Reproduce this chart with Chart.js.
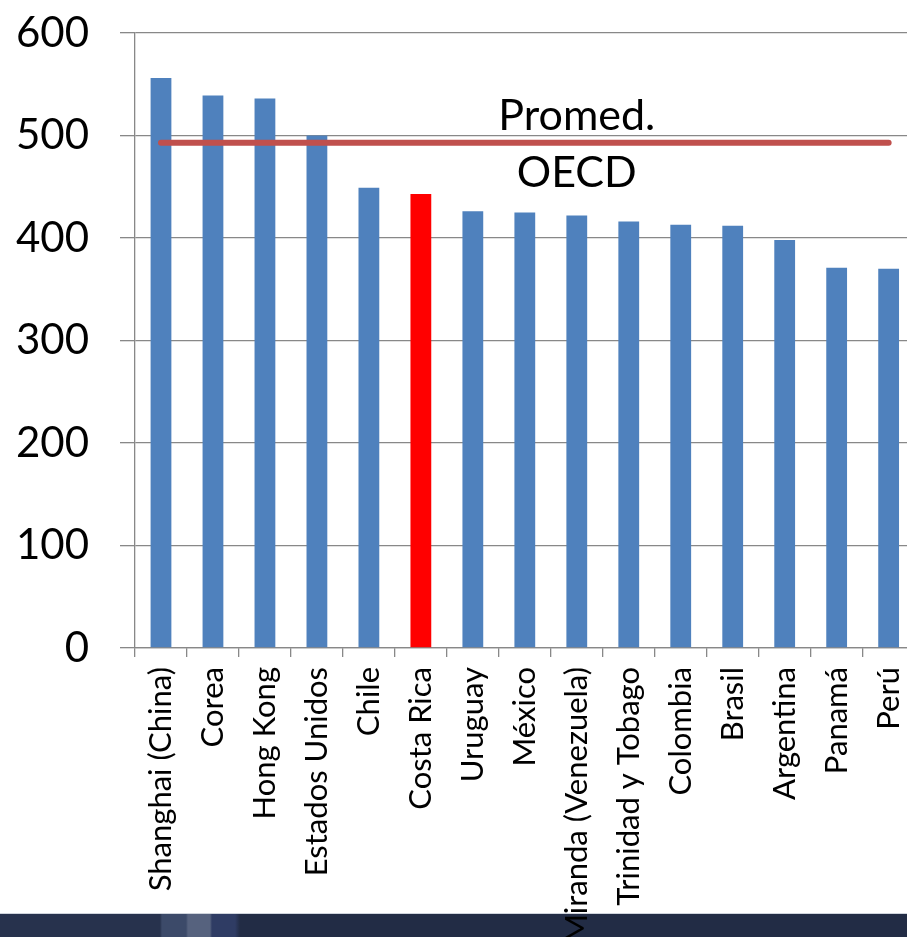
<!DOCTYPE html>
<html lang="es">
<head>
  <meta charset="UTF-8" />
  <title>PISA 2009 - Lectura</title>
  <script src="https://cdn.jsdelivr.net/npm/chart.js"></script>
  <style>
    html, body { margin: 0; padding: 0; background: #fff; }
    .slide { position: relative; width: 907px; height: 937px; overflow: hidden; background: #fff; }
    .band {
      position: absolute; left: 0; top: 913px; width: 907px; height: 24px;
      border-top: 1px solid #cfd4dc;
      background: linear-gradient(90deg, #27324d 0, #27324d 160px, #3c4a69 162px, #3c4a69 186px,
        #56627e 188px, #56627e 210px, #2f3c64 212px, #2f3c64 235px, #222c45 240px, #222c45 907px);
    }
    #pisaChart { position: absolute; left: 0; top: 0; z-index: 1; }
  </style>
</head>
<body>
  <div class="slide">
    <div class="band"></div>
    <canvas id="pisaChart" width="936" height="937"></canvas>
  </div>

  <script>
    const countries = ['Shanghai (China)', 'Corea', 'Hong Kong', 'Estados Unidos', 'Chile', 'Costa Rica',
      'Uruguay', 'México', 'Miranda (Venezuela)', 'Trinidad y Tobago', 'Colombia', 'Brasil',
      'Argentina', 'Panamá', 'Perú'];
    const scores = [556, 539, 536, 500, 449, 443, 426, 425, 422, 416, 413, 412, 398, 371, 370];
    const oecdAverage = 493;
    const highlight = 'Costa Rica';
    const yTicks = [0, 100, 200, 300, 400, 500, 600];

    const FONT = 'Lato, "Open Sans", sans-serif';
    const gridGray = '#888888';

    // "Promed. / OECD" caption above and below the average line
    const avgLabel = {
      id: 'avgLabel',
      afterDatasetsDraw(chart) {
        const { ctx, scales } = chart;
        const x = scales.x.getPixelForValue(8);
        const y = scales.y.getPixelForValue(oecdAverage);
        ctx.save();
        ctx.fillStyle = '#000';
        ctx.font = '43px ' + FONT;
        ctx.textAlign = 'center';
        ctx.textBaseline = 'alphabetic';
        ctx.fillText('Promed.', x, y - 13);
        ctx.fillText('OECD', x, y + 44);
        ctx.restore();
      }
    };

    new Chart(document.getElementById('pisaChart'), {
      type: 'bar',
      data: {
        labels: countries,
        datasets: [
          {
            type: 'line',
            data: countries.map(() => oecdAverage),
            borderColor: '#c0504d',
            borderWidth: 6,
            borderCapStyle: 'round',
            pointRadius: 0,
            fill: false,
            order: 0
          },
          {
            data: scores,
            backgroundColor: countries.map(c => c === highlight ? '#ff0000' : '#4f81bd'),
            categoryPercentage: 1,
            barPercentage: 0.4,
            order: 1
          }
        ]
      },
      options: {
        responsive: false,
        animation: false,
        layout: { padding: { top: 33, right: 5, left: 0, bottom: 0 } },
        plugins: {
          legend: { display: false },
          tooltip: { enabled: false }
        },
        scales: {
          x: {
            grid: { drawOnChartArea: false, drawTicks: true, tickLength: 9, color: gridGray, lineWidth: 1.3 },
            border: { color: gridGray, width: 1.3 },
            ticks: {
              autoSkip: false,
              maxRotation: 90,
              minRotation: 90,
              padding: 10,
              color: '#000',
              font: { family: FONT, size: 31 }
            },
            afterFit(scale) { scale.height = 289; }
          },
          y: {
            min: 0,
            max: 600,
            afterBuildTicks(scale) { scale.ticks = yTicks.map(v => ({ value: v })); },
            grid: { color: gridGray, lineWidth: 1.3, tickLength: 15 },
            border: { color: gridGray, width: 1.3 },
            ticks: {
              padding: 31,
              color: '#000',
              font: { family: FONT, size: 42 }
            },
            afterFit(scale) {
              scale.width = 135;
              // labels may overhang the plot edges; keep the plot at its fixed top
              scale.paddingTop = 0;
              scale.paddingBottom = 0;
            }
          }
        }
      },
      plugins: [avgLabel]
    });
  </script>
</body>
</html>
